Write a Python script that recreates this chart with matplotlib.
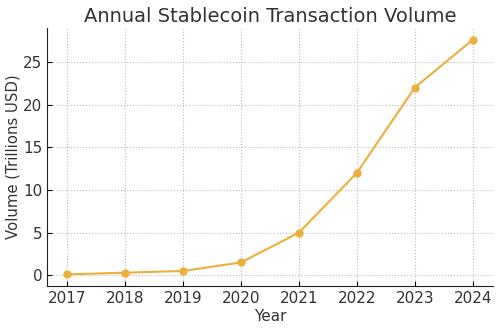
import matplotlib.pyplot as plt

years = [2017, 2018, 2019, 2020, 2021, 2022, 2023, 2024]
volume = [0.1, 0.3, 0.5, 1.5, 5.0, 12.0, 22.0, 27.6]

fig, ax = plt.subplots(figsize=(5, 3.3), dpi=100)
ax.plot(years, volume, marker='o', color='#EBB03B', linewidth=1.5, markersize=5)
ax.set_title('Annual Stablecoin Transaction Volume', fontsize=14, color='#333333', pad=4)
ax.set_xlabel('Year', fontsize=11, color='#333333', labelpad=2)
ax.set_ylabel('Volume (Trillions USD)', fontsize=10.7, color='#333333', labelpad=2)
ax.set_xticks(years)
ax.set_yticks([0, 5, 10, 15, 20, 25])
ax.tick_params(direction='in', labelsize=11, labelcolor='#333333')
ax.grid(True, linestyle=':', color='#bbbbbb', linewidth=0.8)
ax.spines['top'].set_visible(False)
ax.spines['right'].set_visible(False)
ax.spines['left'].set_color('#222222')
ax.spines['bottom'].set_color('#222222')
plt.subplots_adjust(left=0.094, right=0.986, top=0.915, bottom=0.133)
plt.savefig('out.png')
